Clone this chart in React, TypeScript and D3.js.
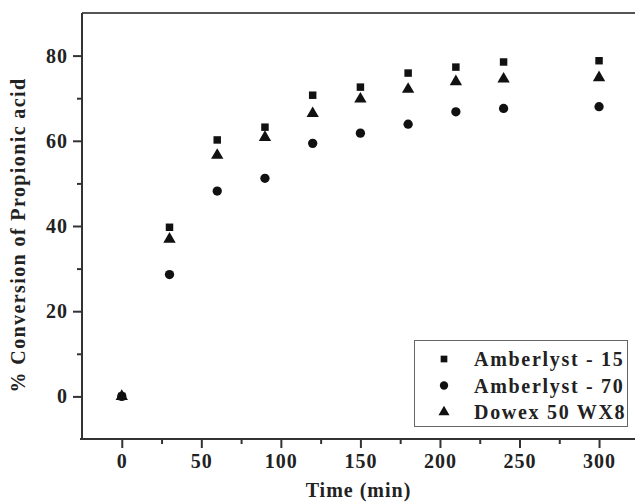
import React, { useEffect, useRef } from 'react';
import * as d3 from 'd3';

// data
const times = [0, 30, 60, 90, 120, 150, 180, 210, 240, 300];
const amberlyst15 = [0, 39.7, 60.2, 63.2, 70.7, 72.6, 75.9, 77.3, 78.5, 78.8];
const amberlyst70 = [0, 28.6, 48.2, 51.2, 59.4, 61.8, 63.9, 66.8, 67.6, 68.0];
const dowex = [0, 36.9, 56.6, 60.8, 66.4, 69.8, 72.1, 73.9, 74.5, 74.8];
const xTicks = [0, 50, 100, 150, 200, 250, 300];
const xMinorTicks = [25, 75, 125, 175, 225, 275];
const yTicks = [0, 20, 40, 60, 80];
const yMinorTicks = [10, 30, 50, 70];
const seriesNames = ['Amberlyst - 15', 'Amberlyst - 70', 'Dowex 50 WX8'];

function App() {
    const svgRef = useRef<SVGSVGElement>(null);

    useEffect(() => {
        const W = 635, H = 504;
        const margin = { top: 13, right: 0, bottom: 65, left: 82 };
        const font = '"Liberation Serif", "Times New Roman", serif';
        const axisColor = '#333';

        const svg = d3.select(svgRef.current);
        svg.selectAll('*').remove();

        const x = d3.scaleLinear().domain([-25, 322.6]).range([margin.left, W - margin.right]);
        const y = d3.scaleLinear().domain([-10, 90]).range([H - margin.bottom, margin.top]);

        const boldText = (sel, spacing = '1px') => sel
            .attr('fill', '#222')
            .style('font-family', font).style('font-size', '20px').style('font-weight', 'bold')
            .style('letter-spacing', spacing);

        // top frame line
        svg.append('line')
            .attr('x1', margin.left).attr('x2', W)
            .attr('y1', margin.top).attr('y2', margin.top)
            .attr('stroke', '#555').attr('stroke-width', 2);

        // x axis (minor, then major)
        const xMinor = svg.append('g')
            .attr('transform', `translate(0, ${y(-10)})`)
            .call(d3.axisBottom(x).tickValues(xMinorTicks).tickSize(5).tickFormat(() => ''));
        xMinor.select('.domain').remove();
        xMinor.selectAll('line').attr('stroke', axisColor).attr('stroke-width', 2);

        const xMajor = svg.append('g')
            .attr('transform', `translate(0, ${y(-10)})`)
            .call(d3.axisBottom(x).tickValues(xTicks).tickSize(9).tickPadding(6).tickFormat(d3.format('d')));
        xMajor.select('.domain').attr('stroke', axisColor).attr('stroke-width', 2)
            .attr('d', `M${margin.left - 2},0H${W}`);
        xMajor.selectAll('line').attr('stroke', axisColor).attr('stroke-width', 2);
        boldText(xMajor.selectAll('text'));

        // y axis (minor, then major)
        const yMinor = svg.append('g')
            .attr('transform', `translate(${margin.left}, 0)`)
            .call(d3.axisLeft(y).tickValues(yMinorTicks).tickSize(5).tickFormat(() => ''));
        yMinor.select('.domain').remove();
        yMinor.selectAll('line').attr('stroke', axisColor).attr('stroke-width', 2);

        const yMajor = svg.append('g')
            .attr('transform', `translate(${margin.left}, 0)`)
            .call(d3.axisLeft(y).tickValues(yTicks).tickSize(9).tickPadding(5).tickFormat(d3.format('d')));
        yMajor.select('.domain').attr('stroke', axisColor).attr('stroke-width', 2)
            .attr('d', `M0,${margin.top}V${y(-10) + 1}`);
        yMajor.selectAll('line').attr('stroke', axisColor).attr('stroke-width', 2);
        boldText(yMajor.selectAll('text'));

        // axis titles
        boldText(svg.append('text'))
            .attr('x', (margin.left + W) / 2).attr('y', 497)
            .attr('text-anchor', 'middle')
            .text('Time (min)');

        boldText(svg.append('text'), '1.4px')
            .attr('transform', `translate(25, 235) rotate(-90)`)
            .attr('text-anchor', 'middle')
            .text('% Conversion of Propionic acid');

        // markers
        const symbols = [d3.symbolSquare, d3.symbolCircle, d3.symbolTriangle];
        const sizes = [56, 68, 66];
        const allSeries = [amberlyst15, amberlyst70, dowex];

        allSeries.forEach((vals, i) => {
            svg.append('g').selectAll('path')
                .data(times.map((t, j) => ({ t, v: vals[j] })))
                .join('path')
                .attr('transform', d => `translate(${x(d.t)}, ${y(d.v)})`)
                .attr('d', d3.symbol().type(symbols[i]).size(sizes[i])())
                .attr('fill', '#111');
        });

        // legend
        const lg = svg.append('g');
        lg.append('rect')
            .attr('x', 414.5).attr('y', 340.5).attr('width', 213).attr('height', 86)
            .attr('fill', 'white').attr('stroke', '#666').attr('stroke-width', 1);
        seriesNames.forEach((name, i) => {
            const cy = 359 + i * 26.5;
            lg.append('path')
                .attr('transform', `translate(444, ${cy})`)
                .attr('d', d3.symbol().type(symbols[i]).size(sizes[i] * 0.8)())
                .attr('fill', '#111');
            boldText(lg.append('text'), '1.7px')
                .attr('x', 474).attr('y', cy + 7)
                .text(name);
        });
    }, []);

    return (
        <svg ref={svgRef} width={635} height={504}
            style={{ position: 'absolute', left: 0, top: 0, background: 'white' }} />
    );
}

export default App;
